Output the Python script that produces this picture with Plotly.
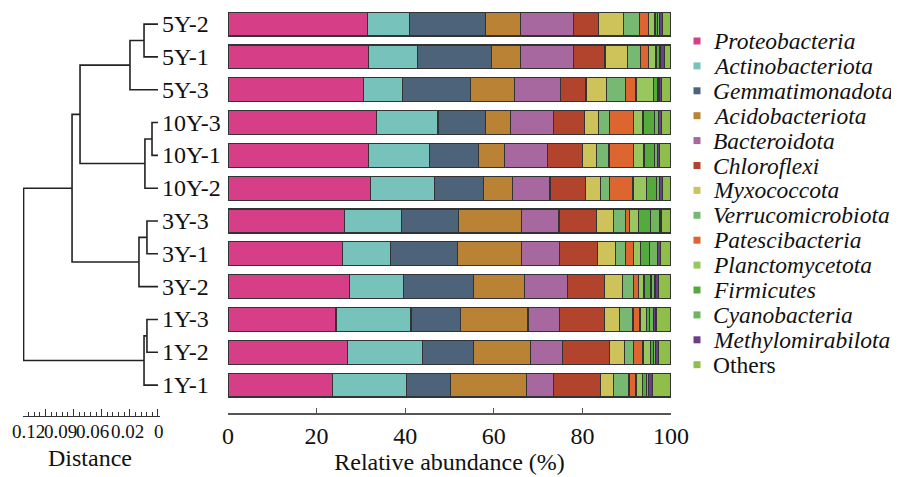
import plotly.graph_objects as go

# ---------------- data ----------------
samples = ['5Y-2', '5Y-1', '5Y-3', '10Y-3', '10Y-1', '10Y-2',
           '3Y-3', '3Y-1', '3Y-2', '1Y-3', '1Y-2', '1Y-1']   # top -> bottom

phyla = ['Proteobacteria', 'Actinobacteriota', 'Gemmatimonadota', 'Acidobacteriota',
         'Bacteroidota', 'Chloroflexi', 'Myxococcota', 'Verrucomicrobiota',
         'Patescibacteria', 'Planctomycetota', 'Firmicutes', 'Cyanobacteria',
         'Methylomirabilota', 'Others']

proteobacteria    = [31.5, 31.8, 30.6, 33.6, 31.7, 32.1, 26.3, 25.8, 27.4, 24.4, 27.0, 23.5]
actinobacteriota  = [9.5, 11.0, 8.8, 13.8, 13.8, 14.6, 12.9, 10.8, 12.2, 16.9, 16.9, 16.8]
gemmatimonadota   = [17.1, 16.6, 15.4, 10.7, 11.1, 11.0, 12.8, 15.2, 15.8, 11.2, 11.5, 10.0]
acidobacteriota   = [8.0, 6.7, 9.8, 5.6, 5.8, 6.5, 14.3, 14.4, 11.6, 15.2, 12.8, 17.1]
bacteroidota      = [11.9, 11.9, 10.5, 9.7, 9.8, 8.5, 8.4, 8.7, 9.6, 7.1, 7.3, 6.1]
chloroflexi       = [5.7, 7.1, 5.7, 7.0, 7.8, 8.0, 8.5, 8.5, 8.3, 10.1, 10.6, 10.6]
myxococcota       = [5.5, 5.0, 4.7, 3.2, 3.1, 3.3, 3.9, 4.1, 4.2, 3.4, 3.4, 2.9]
verrucomicrobiota = [3.6, 3.1, 4.3, 2.5, 2.9, 2.2, 2.7, 2.3, 2.4, 3.1, 2.0, 3.5]
patescibacteria   = [2.1, 1.7, 2.3, 5.5, 5.5, 5.2, 0.9, 1.7, 1.1, 1.6, 2.2, 1.6]
planctomycetota   = [1.5, 1.7, 3.9, 2.1, 2.4, 3.0, 1.9, 1.7, 1.3, 1.5, 1.6, 1.5]
firmicutes        = [0.6, 0.8, 0.9, 2.5, 2.3, 2.4, 2.7, 1.9, 1.6, 0.6, 0.7, 0.8]
cyanobacteria     = [0.4, 0.3, 0.4, 0.9, 0.7, 0.6, 2.2, 1.9, 0.9, 0.9, 0.5, 0.5]
methylomirabilota = [0.6, 0.8, 0.5, 0.8, 0.5, 0.6, 0.4, 0.7, 0.7, 0.6, 0.6, 0.9]
others            = [2.0, 1.5, 2.2, 2.1, 2.6, 2.0, 2.1, 2.3, 2.9, 3.4, 2.9, 4.2]

values = [proteobacteria, actinobacteriota, gemmatimonadota, acidobacteriota,
          bacteroidota, chloroflexi, myxococcota, verrucomicrobiota,
          patescibacteria, planctomycetota, firmicutes, cyanobacteria,
          methylomirabilota, others]

colors = ['#D63E87', '#77C3BC', '#4C637A', '#BA8234', '#A6689F', '#B2442E',
          '#CEC25A', '#77B873', '#DD6530', '#99C65E', '#55AA3D', '#70B45E',
          '#6A3F86', '#8FBF4A']

# dendrogram merges: (child A, child B, distance, new node)
merges = [
    ('5Y-2', '5Y-1', 0.0124, 'A'),
    ('A', '5Y-3', 0.0249, 'B'),
    ('10Y-3', '10Y-1', 0.0053, 'C'),
    ('C', '10Y-2', 0.0116, 'D'),
    ('B', 'D', 0.0693, 'E'),
    ('3Y-3', '3Y-1', 0.0098, 'F'),
    ('F', '3Y-2', 0.0169, 'G'),
    ('E', 'G', 0.0764, 'H'),
    ('1Y-3', '1Y-2', 0.0098, 'I'),
    ('I', '1Y-1', 0.0124, 'J'),
    ('H', 'J', 0.1195, 'K'),
]

scale_labels = ['0.12', '0.09', '0.06', '0.02', '0']
x_ticks = [0, 20, 40, 60, 80, 100]

# ---------------- layout helpers ----------------
OFF = 8                       # page body margin
W, H = 899, 477               # paper; extends past the viewport edge by OFF
FONT = 'Liberation Serif, Times New Roman, serif'
FS = 24
order = samples[::-1]                 # bottom -> top on category axis
ypos = {s: i for i, s in enumerate(order)}

def px_x(p):                  # viewport px -> paper fraction
    return (p - OFF) / W

def px_y(p):
    return (H - (p - OFF)) / H

fig = go.Figure()

for name, vals, col in zip(phyla, values, colors):
    fig.add_trace(go.Bar(
        y=samples, x=vals, name=name, orientation='h',
        marker=dict(color=col, line=dict(color='#333333', width=1.2)),
        width=0.73, showlegend=False, hoverinfo='x+name'))

# dendrogram
node_y = dict(ypos)
node_h = {s: 0.0 for s in samples}
dx, dy = [], []
for a, b, h, nm in merges:
    ya, yb = node_y[a], node_y[b]
    dx += [node_h[a], h, h, node_h[b], None]
    dy += [ya, ya, yb, yb, None]
    node_y[nm] = (ya + yb) / 2
    node_h[nm] = h
fig.add_trace(go.Scatter(x=dx, y=dy, mode='lines', xaxis='x2', yaxis='y2',
                         line=dict(color='#222222', width=1.6),
                         showlegend=False, hoverinfo='skip'))

# leaf labels
for s in samples:
    fig.add_annotation(x=0, y=ypos[s], xref='x2', yref='y2', text=s, showarrow=False,
                       xanchor='left', yanchor='middle', xshift=2,
                       font=dict(family=FONT, size=FS, color='#111'))

# legend (custom)
fig.add_trace(go.Scatter(
    x=[17] * len(phyla), y=list(range(len(phyla))), mode='markers',
    xaxis='x3', yaxis='y3',
    marker=dict(symbol='square', size=7, color=colors, line=dict(width=0)),
    showlegend=False, hoverinfo='skip'))
for i, nm in enumerate(phyla):
    txt = nm if nm == 'Others' else '<i>%s</i>' % nm
    fig.add_annotation(x=31, y=i, xref='x3', yref='y3', text=txt, showarrow=False,
                       xanchor='left', yanchor='middle',
                       font=dict(family=FONT, size=23.5, color='#111'))

# distance scale labels + title
for lab, cx in zip(scale_labels, [28, 60, 92, 127, 159]):
    fig.add_annotation(x=px_x(cx), y=px_y(431), xref='paper', yref='paper', text=lab,
                       showarrow=False, xanchor='center', yanchor='middle',
                       font=dict(family=FONT, size=19, color='#111'))
fig.add_annotation(x=px_x(90), y=px_y(458), xref='paper', yref='paper', text='Distance',
                   showarrow=False, xanchor='center', yanchor='middle',
                   font=dict(family=FONT, size=FS, color='#111'))

unit = 32.82
ytop_px, ybot_px, sbot_px = 8, 413, 416
yr1 = 11.49
yr0 = yr1 - (ybot_px - ytop_px) / unit
yr0b = yr1 - (sbot_px - ytop_px) / unit

first, step = 41, 24.9
first_f = first - OFF

fig.update_layout(
    width=W, height=H, autosize=False,
    margin=dict(l=0, r=0, t=0, b=0, pad=0),
    paper_bgcolor='white', plot_bgcolor='white',
    barmode='stack',
    font=dict(family=FONT, size=FS, color='#111'),
    xaxis=dict(domain=[px_x(228), px_x(671)], range=[0, 100], automargin=False,
               tickvals=x_ticks, ticks='inside', ticklen=5, tickwidth=1.2,
               tickcolor='#555', showline=True, linecolor='#555', linewidth=1.5,
               showgrid=False, zeroline=False, anchor='y', ticklabelstandoff=0,
               tickfont=dict(family=FONT, size=FS, color='#111'),
               title=dict(text='Relative abundance (%)',
                          font=dict(family=FONT, size=FS, color='#111'), standoff=6)),
    yaxis=dict(domain=[px_y(ybot_px), px_y(ytop_px)], type='category', automargin=False,
               categoryorder='array', categoryarray=order, range=[yr0, yr1],
               ticks='', showline=False, showgrid=False, zeroline=False,
               showticklabels=False, anchor='x'),
    xaxis2=dict(domain=[px_x(23), px_x(160)], range=[0.12, -0.0018], anchor='y2',
                automargin=False, showticklabels=False,
                tickvals=[0, 0.025, 0.05, 0.075, 0.1],
                ticks='inside', ticklen=7, tickcolor='#333', tickwidth=1.2,
                minor=dict(dtick=0.005, tick0=0, ticks='inside', ticklen=4,
                           tickcolor='#333', tickwidth=1),
                showline=True, linecolor='#333', linewidth=1.3,
                showgrid=False, zeroline=False),
    yaxis2=dict(domain=[px_y(sbot_px), px_y(ytop_px)], range=[yr0b, yr1],
                visible=False, anchor='x2', automargin=False),
    xaxis3=dict(domain=[px_x(680), px_x(899)], range=[0, 219], visible=False,
                anchor='y3', automargin=False),
    yaxis3=dict(domain=[0, 1], range=[(H - first_f) / step, -first_f / step],
                visible=False, anchor='x3', automargin=False),
)

fig.write_html('out.html')
